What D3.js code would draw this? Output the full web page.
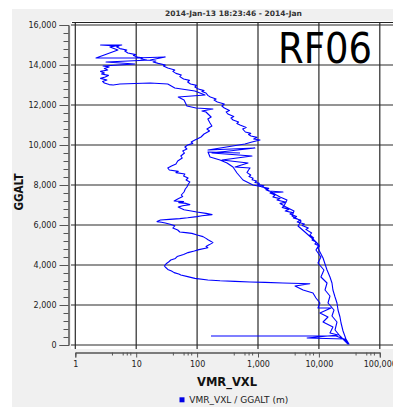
<!DOCTYPE html>
<html>
<head>
<meta charset="utf-8">
<script src="https://cdn.jsdelivr.net/npm/d3@7/dist/d3.min.js"></script>
<style>
  html, body { margin: 0; padding: 0; background: #fff; }
  svg { display: block; }
  text { font-family: "DejaVu Sans", sans-serif; }
</style>
</head>
<body>
<script>
// Water vapour mixing ratio (VMR_VXL) against GPS altitude (GGALT, m), flight RF06.
// Each leg is a list of [VMR_VXL, GGALT] samples, drawn in order as one trace.
const legClimbOut = [
  [169, 450], [19100, 450], [25800, 300], [31200, 50], [27800, 300], [24900, 700], [23100, 1100],
  [22200, 1400], [20600, 1750], [19800, 2100], [18400, 2400], [17000, 2750], [16400, 3100],
  [15200, 3400], [13600, 3750], [12600, 4050], [11700, 4350], [10400, 4650],
  [9650, 4850], [10200, 4950], [8600, 5050], [9000, 5150], [7700, 5250], [8200, 5350], [7100, 5500],
  [7600, 5600], [6100, 5780], [6700, 5850], [5300, 5980], [5800, 6050], [4400, 6150], [5000, 6250],
  [3800, 6350], [4300, 6420], [3350, 6550], [3700, 6620], [2800, 6700], [3200, 6780], [2500, 6880],
  [2700, 6960], [2300, 7080], [2900, 7140], [2050, 7250], [2300, 7320], [1760, 7400], [1900, 7500],
  [1570, 7600], [2570, 7650], [1500, 7700], [1350, 7760], [1500, 7830], [1160, 7900], [1250, 7960],
  [1000, 8020], [1050, 8080], [890, 8130], [950, 8200], [800, 8260], [830, 8340], [710, 8420],
  [760, 8500], [660, 8620], [700, 8750], [740, 8850],
  [420, 8900], [685, 9100], [256, 9250], [796, 9450], [176, 9600], [890, 9850], [151, 9750],
  [610, 10050], [796, 10150]
];
const legUpper = [
  [1080, 10250], [850, 10300], [960, 10380], [767, 10450], [700, 10520], [760, 10580], [620, 10650],
  [560, 10800], [640, 10870], [507, 11000], [450, 11080], [480, 11150], [390, 11250], [360, 11350],
  [400, 11420], [320, 11550], [300, 11650], [340, 11720], [280, 11850], [255, 11950], [280, 12050],
  [215, 12150], [190, 12250], [205, 12300], [165, 12400], [150, 12480], [140, 12600], [120, 12680],
  [130, 12720], [105, 12800], [92, 12900], [98, 12980], [78, 13050], [70, 13150], [75, 13230],
  [60, 13300], [52, 13420], [55, 13500], [45, 13580], [40, 13680], [43, 13750], [33, 13850],
  [28, 13950], [30, 14000], [23, 14080], [19, 14150], [21, 14200], [15, 14250], [12, 14300],
  [13, 14350], [10.5, 14400], [9, 14480], [9.8, 14520], [7.3, 14600], [6.5, 14700], [7, 14750],
  [5.4, 14820], [4.8, 14900], [5.2, 14950], [4.0, 14970], [2.6, 15000]
];
const legTop = [
  [5.8, 15000], [3.7, 14900], [5.0, 14750], [2.19, 14350], [9.5, 14350], [30, 14400], [17, 14250],
  [3.2, 14150], [9.5, 14050], [2.85, 13950], [3.6, 13900], [3.0, 13820], [3.4, 13750], [2.6, 13680],
  [3.0, 13600], [2.7, 13550], [3.5, 13480], [3.1, 13400], [2.6, 13330], [3.3, 13250], [2.8, 13180],
  [3.0, 13100], [3.6, 13020], [4.2, 13000], [5.4, 13050], [17, 13100], [33, 13050], [43, 12850],
  [92, 12700], [135, 12500], [49, 12400], [61, 12250], [68, 11950]
];
const legDescent = [
  [96, 11850], [182, 11800], [120, 11700], [140, 11650], [151, 11550], [170, 11400], [150, 11300],
  [163, 11100], [175, 10950], [145, 10800], [160, 10700], [130, 10550], [116, 10400], [100, 10300],
  [92, 10250], [80, 10150], [85, 10080], [70, 10000], [63, 9900], [68, 9800], [58, 9700], [62, 9600],
  [54, 9450], [57, 9350], [48, 9200], [45, 9050], [38, 8950], [33, 8850], [35, 8750], [49, 8680],
  [45, 8620], [63, 8550], [60, 8450], [71, 8350], [66, 8250], [76, 8150], [72, 8050], [68, 7900],
  [64, 7800], [61, 7650], [55, 7500], [58, 7420], [48, 7300], [42, 7200], [60, 7170], [50, 7120],
  [66, 7080], [76, 7020], [58, 6960], [49, 6900], [55, 6820], [61, 6760], [80, 6700], [99, 6650],
  [140, 6580], [176, 6520], [120, 6460], [99, 6420], [70, 6360], [52, 6320], [35, 6280], [25, 6250],
  [22, 6170], [26, 6140], [30, 6100], [36, 6040], [43, 5960], [40, 5850], [48, 5750], [52, 5650],
  [65, 5620], [82, 5580], [100, 5500], [125, 5420], [140, 5330], [151, 5260], [170, 5180],
  [182, 5120], [160, 5020], [140, 4930], [150, 4860], [107, 4770], [90, 4700], [71, 4620],
  [60, 4530], [47, 4420], [44, 4330], [37, 4250], [34, 4150], [31, 4060], [29, 3950], [30, 3900],
  [33, 3780], [38, 3700], [42, 3620], [50, 3550], [54, 3500], [70, 3420], [92, 3330], [150, 3250],
  [238, 3210], [420, 3180], [740, 3150], [1300, 3130], [2570, 3100], [7100, 3060],
  [4050, 2950], [5500, 2750], [8000, 2600], [8950, 2350], [10400, 2100], [9650, 1850], [15800, 1850],
  [10400, 1600], [14100, 1400], [11700, 1150], [17000, 900], [15200, 600], [20600, 500], [6400, 350],
  [26800, 300], [30000, 50]
];
const legSecondClimb = [
  [22200, 450], [18400, 750], [19800, 1150], [16400, 1450], [17700, 1750], [14100, 2100],
  [15200, 2450], [12600, 2750], [13600, 3100], [10800, 3400], [12100, 3750], [9650, 4100],
  [10800, 4400], [8950, 4750], [10000, 5000], [8300, 5250], [5900, 5650], [4540, 5950], [5100, 6200],
  [3620, 6450], [3900, 6700], [2670, 6950], [2990, 7250], [2300, 7400], [1630, 7650], [1210, 7900],
  [827, 8000], [567, 8250], [452, 8600], [388, 8900], [310, 9100], [238, 9250], [163, 9400],
  [151, 9650], [507, 9600]
];

const xMajor = [1, 10, 100, 1000, 10000, 100000];
const xMinorSteps = [4, 6, 7, 8];
const yMajor = [0, 2000, 4000, 6000, 8000, 10000, 12000, 14000, 16000];
const titleText = "2014-Jan-13 18:23:46 - 2014-Jan";
const flightLabel = "RF06";
const xTitle = "VMR_VXL";
const yTitle = "GGALT";
const legendText = "VMR_VXL / GGALT (m)";

const W = 393, H = 407;
const svg = d3.select("body").append("svg").attr("width", W).attr("height", H);

// window chrome and panel
svg.append("rect").attr("width", W).attr("height", H).attr("fill", "#ffffff");
svg.append("rect").attr("x", 12).attr("y", 9).attr("width", W - 12).attr("height", H - 9).attr("fill", "#f0f0f0");

const x = d3.scaleLog().domain([1, 100000]).range([75.3, 379.8]);
const y = d3.scaleLinear().domain([0, 16000]).range([345, 25]);

// plotting area
const plotL = 71, plotT = 21, plotR = W, plotB = 349;
svg.append("rect").attr("x", plotL).attr("y", plotT).attr("width", plotR - plotL).attr("height", plotB - plotT)
  .attr("fill", "#ffffff");

svg.append("defs").append("clipPath").attr("id", "plotclip")
  .append("rect").attr("x", plotL).attr("y", plotT).attr("width", plotR - plotL).attr("height", plotB - plotT);

const grid = svg.append("g").attr("clip-path", "url(#plotclip)");
grid.selectAll("line.vx").data(xMajor).join("line")
  .attr("x1", d => x(d)).attr("x2", d => x(d)).attr("y1", 22.5).attr("y2", plotB)
  .attr("stroke", "#2a2a2a").attr("stroke-width", 1.2);
grid.selectAll("line.hy").data(yMajor).join("line")
  .attr("x1", plotL).attr("x2", plotR).attr("y1", d => y(d)).attr("y2", d => y(d))
  .attr("stroke", "#2a2a2a").attr("stroke-width", 1.2);
// top border of plot frame
svg.append("line").attr("x1", 72).attr("x2", plotR).attr("y1", 22.5).attr("y2", 22.5)
  .attr("stroke", "#222").attr("stroke-width", 1);

// profile trace
const pts = [].concat(legClimbOut, legUpper, legTop, legDescent, legSecondClimb);
const line = d3.line().x(d => x(d[0])).y(d => y(d[1]));
svg.append("g").attr("clip-path", "url(#plotclip)")
  .append("path").datum(pts).attr("d", line)
  .attr("fill", "none").attr("stroke", "#0000ff").attr("stroke-width", 1.1)
  .attr("stroke-linejoin", "round");

// flight label
svg.append("text").attr("x", 278).attr("y", 63).text(flightLabel)
  .attr("font-family", "'Open Sans', sans-serif").attr("font-size", 43)
  .attr("textLength", 94).attr("lengthAdjust", "spacingAndGlyphs").attr("fill", "#000");

// title
svg.append("text").attr("x", 233.5).attr("y", 16).attr("text-anchor", "middle").text(titleText)
  .attr("font-size", 7.5).attr("font-weight", "bold").attr("fill", "#333")
  .attr("textLength", 137).attr("lengthAdjust", "spacingAndGlyphs");

// y axis
const yMinor = d3.range(0, 16001, 400).filter(v => v % 2000 !== 0);
const yAxisG = svg.append("g").attr("transform", "translate(68.5,0)");
yAxisG.call(d3.axisLeft(y).tickValues(yMinor).tickSize(5).tickFormat(""));
yAxisG.append("g").call(d3.axisLeft(y).tickValues(yMajor).tickSize(9).tickPadding(3).tickFormat(d3.format(",")));
yAxisG.selectAll("path.domain").attr("stroke", "#555");
yAxisG.selectAll(".tick line").attr("stroke", "#555");
yAxisG.selectAll("text").attr("font-size", 8).attr("fill", "#222").attr("font-family", "'DejaVu Sans', sans-serif");

// x axis
const xMinor = [];
xMajor.slice(0, -1).forEach(b => xMinorSteps.forEach(s => xMinor.push(b * s)));
const xAxisG = svg.append("g").attr("transform", "translate(0,352.5)");
xAxisG.call(d3.axisBottom(x).tickValues(xMinor).tickSize(3).tickFormat(""));
xAxisG.append("g").call(d3.axisBottom(x).tickValues(xMajor).tickSize(5).tickPadding(4).tickFormat(d3.format(",")));
xAxisG.selectAll("path.domain").attr("stroke", "#555");
xAxisG.selectAll(".tick line").attr("stroke", "#555");
xAxisG.selectAll("text").attr("font-size", 8).attr("fill", "#222").attr("font-family", "'DejaVu Sans', sans-serif");

// axis titles
svg.append("text").attr("transform", "translate(23,192) rotate(-90)").attr("text-anchor", "middle")
  .text(yTitle).attr("font-size", 11.5).attr("font-weight", "bold").attr("fill", "#111")
  .attr("textLength", 37).attr("lengthAdjust", "spacingAndGlyphs");
svg.append("text").attr("x", 227).attr("y", 386).attr("text-anchor", "middle")
  .text(xTitle).attr("font-size", 12).attr("font-weight", "bold").attr("fill", "#111")
  .attr("textLength", 60).attr("lengthAdjust", "spacingAndGlyphs");

// legend
svg.append("rect").attr("x", 179.5).attr("y", 397.3).attr("width", 5).attr("height", 5).attr("fill", "#0000e6");
svg.append("text").attr("x", 189.3).attr("y", 403).text(legendText)
  .attr("font-size", 8.5).attr("fill", "#222")
  .attr("textLength", 99).attr("lengthAdjust", "spacingAndGlyphs");
</script>
</body>
</html>
